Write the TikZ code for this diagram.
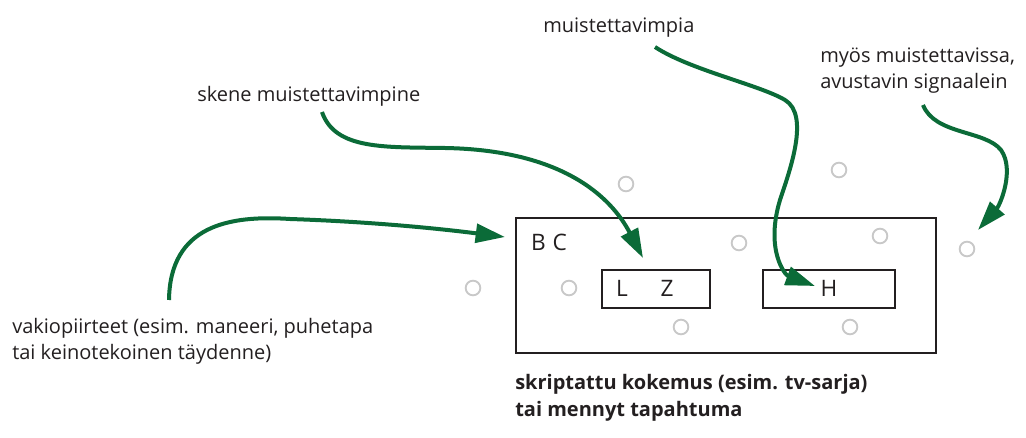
\documentclass[tikz,border=0pt]{standalone}
\usepackage{fontspec}
\setmainfont{Open Sans}
\usetikzlibrary{arrows.meta}

\definecolor{arrowgreen}{HTML}{0B6B38}
\definecolor{inkgray}{HTML}{231F20}
\definecolor{dotgray}{HTML}{C8C8C8}

\tikzset{
  label/.style={inkgray,anchor=west,inner sep=0pt,align=left,
    font=\fontsize{15}{19.5}\selectfont},
  boldlabel/.style={label,font=\fontsize{15}{20}\selectfont\bfseries},
  frame/.style={draw=inkgray,line width=1.6pt},
  letter/.style={inkgray,inner sep=0pt,font=\fontsize{17}{18}\selectfont},
  dot/.style={circle,draw=dotgray,line width=1.4pt,minimum size=11pt,inner sep=0pt},
  pointer/.style={arrowgreen,line width=3pt,
    -{Triangle[length=22pt,width=14pt]}}
}

\begin{document}
\begin{tikzpicture}[x=0.75pt,y=-0.75pt]

      \useasboundingbox (0,0) rectangle (1026,438);

      \begin{scope}[every node/.style={frame,inner sep=0pt,anchor=north west}]
        \node (event) at (515,217) [minimum width=315pt,minimum height=101pt] {};
        \node (lz) at (601,269) [minimum width=81pt,minimum height=28.5pt] {};
        \node (h) at (762,269) [minimum width=99pt,minimum height=28.5pt] {};
      \end{scope}

      \node[letter] (bc) at (549,242) {B\hspace{0.3em}C};
      \node[letter] (l) at (622,288) {L};
      \node[letter] (z) at (667,288) {Z};
      \node[letter] (hh) at (829,288) {H};

      \foreach \n/\x/\y in {1/626/184,2/739/243,3/839/170,4/880/236,5/967/249,
                             6/473/288,7/569/288,8/681/327,9/850/327}
        \node[dot] (dot\n) at (\x,\y) {};

      \node[label] (constant) at (12,341) {vakiopiirteet (esim. maneeri, puhetapa\\tai keinotekoinen täydenne)};
      \node[label] (scene) at (197,96) {skene muistettavimpine};
      \node[label] (memorable) at (543,28) {muistettavimpia};
      \node[label] (signals) at (820,71) {myös muistettavissa,\\avustavin signaalein};
      \node[boldlabel] (caption) at (515,398) {skriptattu kokemus (esim. tv-sarja)\\tai mennyt tapahtuma};

      \coordinate (c1) at (169,300);
      \coordinate (c2) at (322,112);
      \coordinate (c3) at (655,47);
      \coordinate (c4) at (923,105);
      \coordinate (t1) at (505,237);
      \coordinate (t2) at (643,258);
      \coordinate (t3) at (815,286);
      \coordinate (t4) at (978,230);

      \begin{scope}[every path/.style={pointer}]
        \draw (c1) .. controls (170,225) and (230,215) .. (290,219) .. controls (380,222) and (450,230) .. (t1);
        \draw (c2) .. controls (335,150) and (385,147) .. (445,148) .. controls (560,150) and (610,195) .. (t2);
        \draw (c3) .. controls (690,70) and (760,85) .. (785,100) .. controls (810,115) and (790,170) .. (780,200) .. controls (765,250) and (785,275) .. (t3);
        \draw (c4) .. controls (935,135) and (985,130) .. (1001,150) .. controls (1015,170) and (1000,205) .. (t4);
      \end{scope}

    \end{tikzpicture}
\end{document}
